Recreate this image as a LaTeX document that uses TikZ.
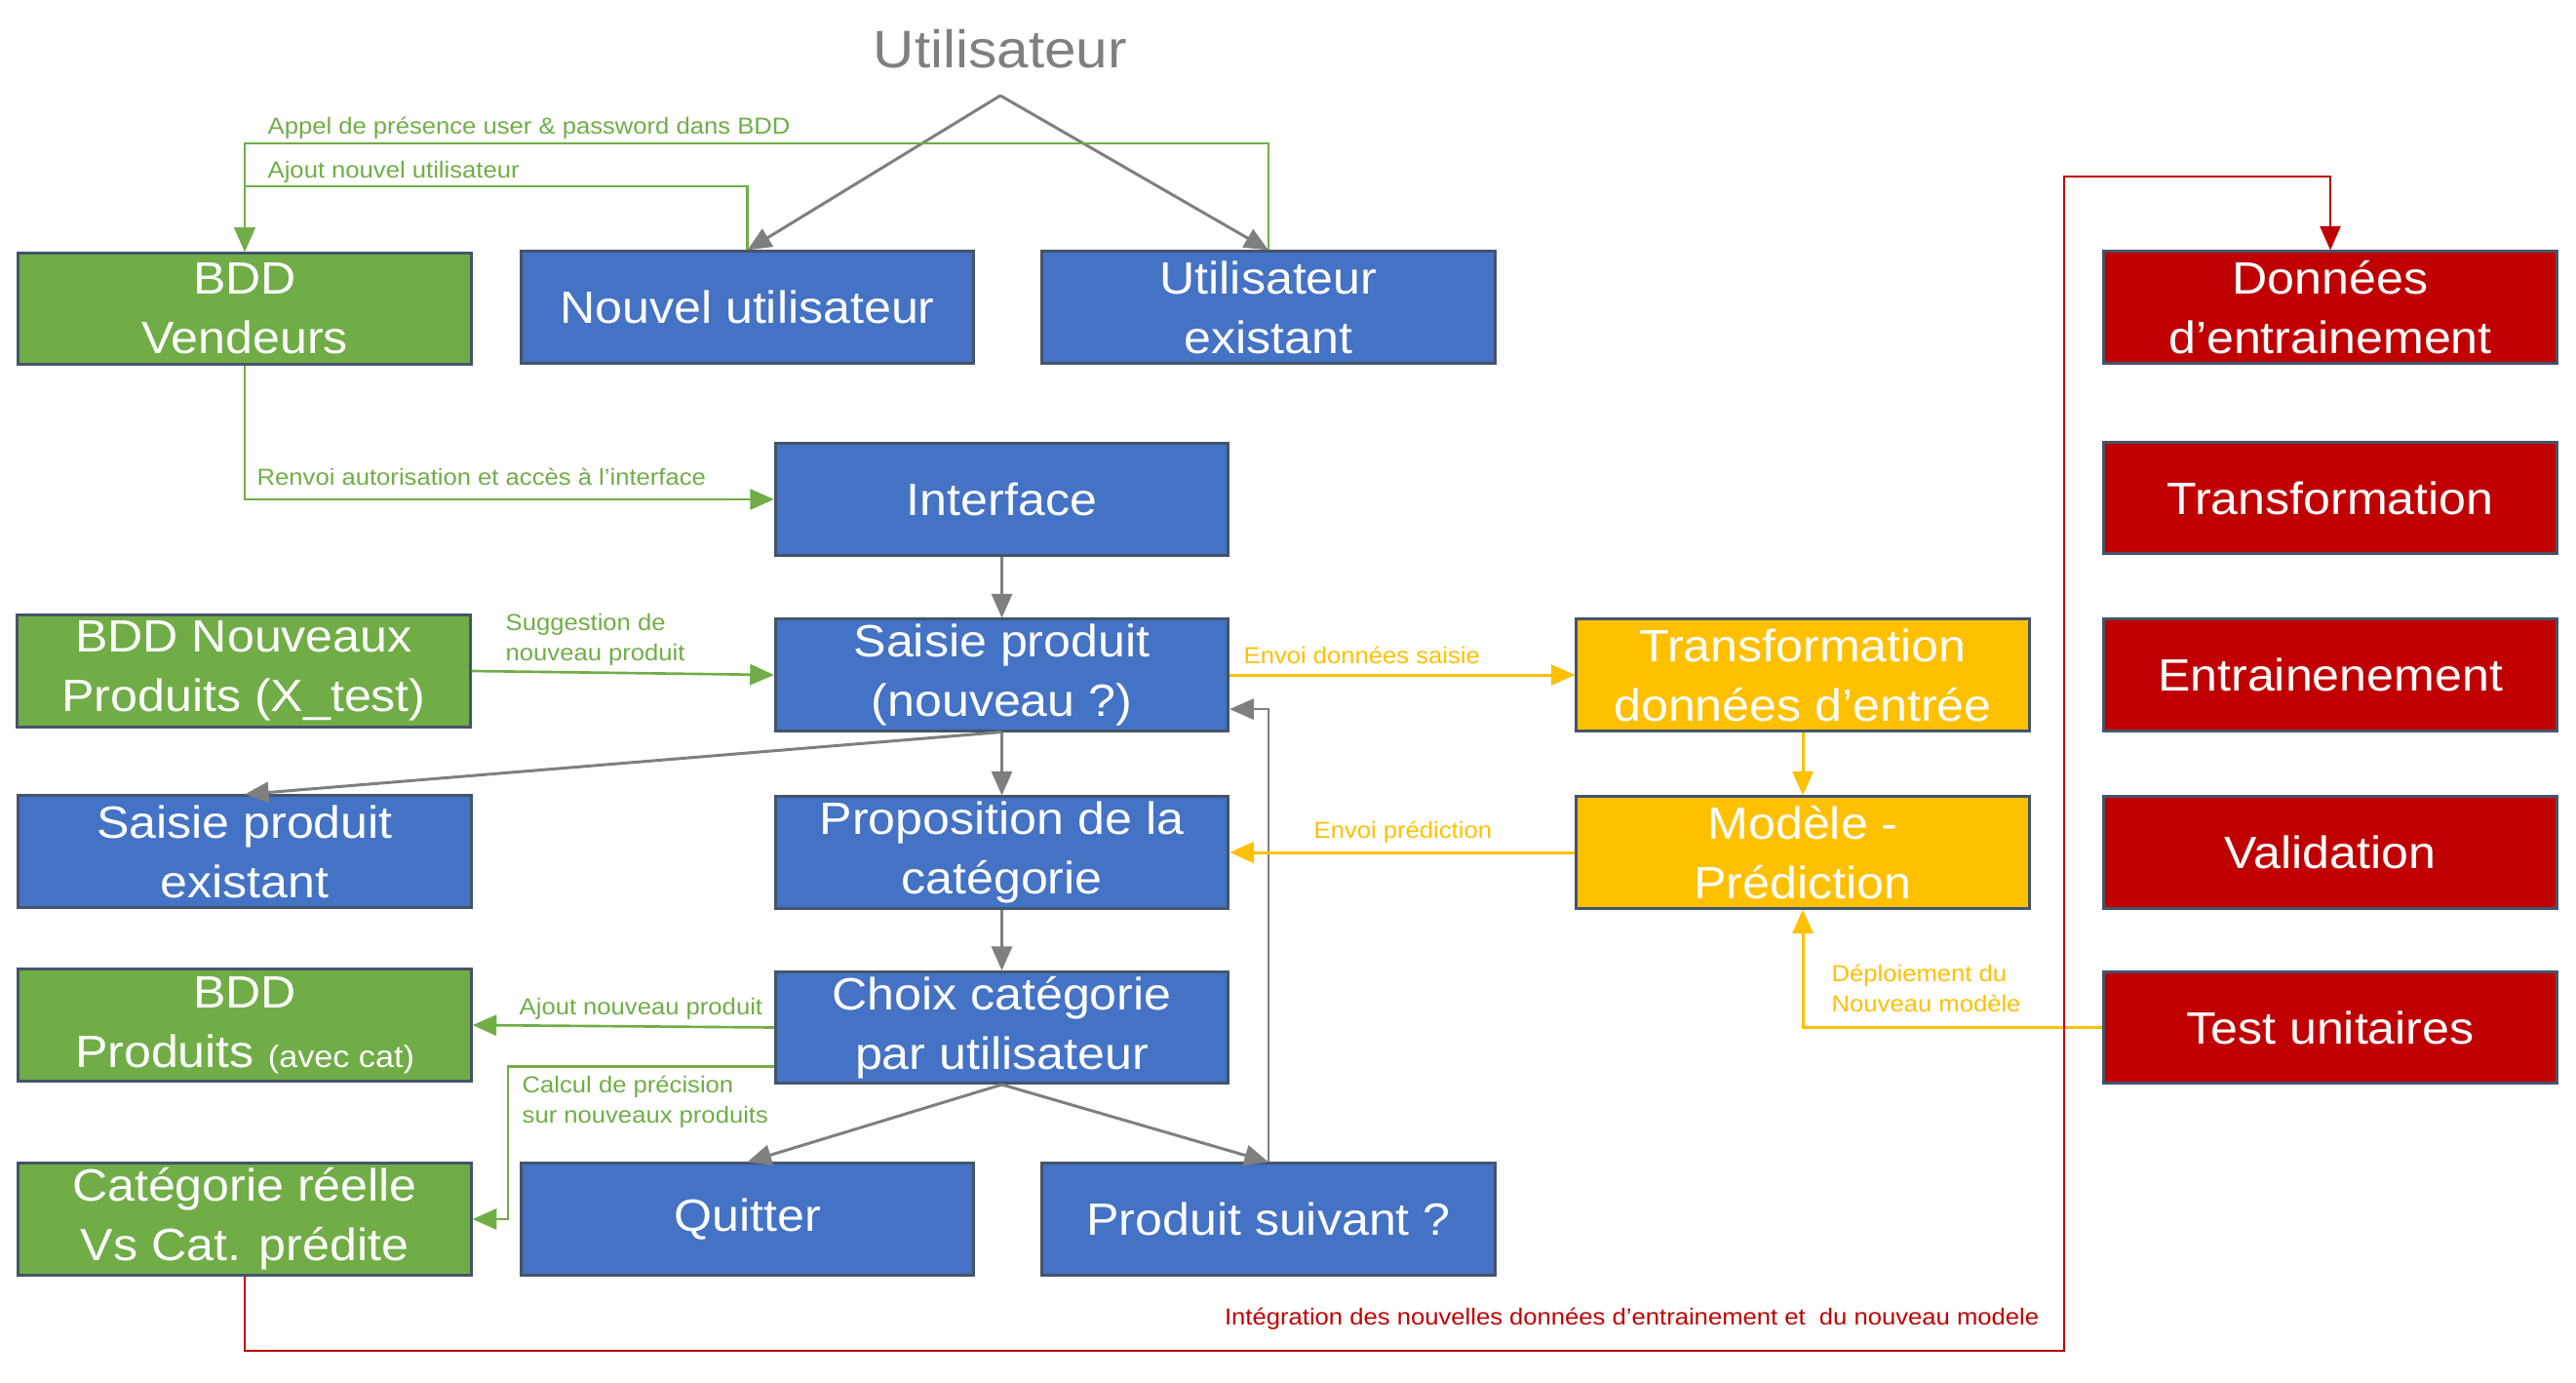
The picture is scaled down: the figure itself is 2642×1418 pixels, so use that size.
\documentclass[tikz,border=0pt]{standalone}
\usepackage{fontspec}
\setmainfont{Liberation Sans}[FakeStretch=1.08]
\usepackage{tikz}
\usetikzlibrary{arrows.meta,calc}
\definecolor{vert}{HTML}{70AD47}
\definecolor{bleu}{HTML}{4472C4}
\definecolor{jaune}{HTML}{FFC000}
\definecolor{rouge}{HTML}{C00000}
\definecolor{contour}{HTML}{44546A}
\definecolor{gris}{HTML}{7F7F7F}
\tikzset{
	flow chart/.style={x=0.01cm, y=-0.01cm},
	box/.style={draw=contour, line width=0.85pt, text=white,
		minimum width=4.64cm, minimum height=1.14cm, inner sep=0pt,
		align=center, font=\fontsize{13.2}{17.4}\selectfont},
	gbox/.style={box, fill=vert},
	bbox/.style={box, fill=bleu},
	ybox/.style={box, fill=jaune},
	rbox/.style={box, fill=rouge},
	lbl/.style={inner sep=0pt, align=left, anchor=base west,
		font=\fontsize{6.75}{8.8}\selectfont},
	ar/.style={-{Triangle[length=7pt,width=6pt]}},
	gline/.style={draw=vert, line width=0.75pt, ar},
	yline/.style={draw=jaune, line width=0.85pt, ar},
	rline/.style={draw=rouge, line width=0.7pt, ar},
	gray/.style={draw=gris, line width=0.85pt, ar},
	% gray thin/.style={draw=gris, line width=0.5pt, ar},
}

\begin{document}
\begin{tikzpicture}[flow chart]
	\useasboundingbox (0,0) rectangle (2642,1418);
	% titre
	\node[text=gris, anchor=base, font=\fontsize{15.4}{18}\selectfont] (util) at (1026,70) {Utilisateur};
	\coordinate (apex) at (1026,98);
	% colonne gauche
	\node[gbox] (BV) at (251,316.5) {BDD\\Vendeurs};
	\node[gbox] (BN) at (250,688) {BDD Nouveaux\\Produits (X\_test)};
	\node[bbox] (SE) at (251,873) {Saisie produit\\existant};
	\node[gbox] (BP) at (251,1051) {BDD\\Produits {\fontsize{9}{10}\selectfont(avec cat)}};
	\node[gbox] (CR) at (251,1250) {Catégorie réelle\\Vs Cat. prédite};
	% milieu
	\node[bbox] (NU) at (766.5,315) {Nouvel utilisateur};
	\node[bbox] (UE) at (1301,315) {Utilisateur\\existant};
	\node[bbox] (IF) at (1027.5,512) {Interface};
	\node[bbox] (SP) at (1027.5,692) {Saisie produit\\(nouveau ?)};
	\node[bbox] (PC) at (1027.5,874) {Proposition de la\\catégorie};
	\node[bbox] (CU) at (1027.5,1053.5) {Choix catégorie\\par utilisateur};
	\node[bbox] (QU) at (766.5,1250) {Quitter};
	\node[bbox] (PS) at (1301,1250) {Produit suivant ?};
	% modele
	\node[ybox] (TD) at (1849,692) {Transformation\\données d’entrée};
	\node[ybox] (MP) at (1849,874) {Modèle -\\Prédiction};
	% entrainement
	\node[rbox] (DE) at (2390,315) {Données\\d’entrainement};
	\node[rbox] (TR) at (2390,510.5) {Transformation};
	\node[rbox] (EN) at (2390,692) {Entrainenement};
	\node[rbox] (VA) at (2390,874) {Validation};
	\node[rbox] (TU) at (2390,1053.5) {Test unitaires};

	% points de passage
	\coordinate (appel) at (0,147);
	\coordinate (ajout) at (0,191);
	\coordinate (calc) at (521,0);
	\coordinate (rb) at (2117,1385);
	\coordinate (rt) at (2117,181);

	% fleches grises
	\draw[gray] (apex) -- (NU.north);
	\draw[gray] (apex) -- (UE.north);
	\draw[gray] (IF) -- (SP);
	\draw[gray] (SP.south) -- (SE.north);
	\draw[gray] (SP) -- (PC);
	\draw[gray] (PC) -- (CU);
	\draw[gray] (CU.south) -- (QU.north);
	\draw[gray] (CU.south) -- (PS.north);
	\draw[gray, line width=0.6pt] (PS.north) |- ($(SP.south east)!.2!(SP.north east)$);

	% fleches vertes
	\draw[gline] (UE.north) |- (BV.north |- appel) -- (BV.north);
	\draw[gline] (NU.north) |- (BV.north |- ajout) -- (BV.north);
	\draw[gline] (BV.south) |- (IF.west);
	\draw[gline] (BN.east) -- (SP.west);
	\draw[gline] (CU.west) -- (BP.east);
	\draw[gline] ($(CU.south west)!.16!(CU.north west)$) -| (calc |- CR.east) -- (CR.east);

	% fleches jaunes
	\draw[yline] (SP.east) -- (TD.west);
	\draw[yline] (TD) -- (MP);
	\draw[yline] (MP.west) -- (PC.east);
	\draw[yline] (TU.west) -| (MP.south);

	% fleche rouge
	\draw[rline] (CR.south) |- (rb) -- (rt) -| (DE.north);

	% textes
	\node[lbl, text=vert] (lAppel) at (274,137) {Appel de présence user \& password dans BDD};
	\node[lbl, text=vert] (lAjout) at (274,182) {Ajout nouvel utilisateur};
	\node[lbl, text=vert] (lRenvoi) at (263,497) {Renvoi autorisation et accès à l’interface};
	\node[lbl, text=vert] (lSugg) at (518,677) {Suggestion de\\nouveau produit};
	\node[lbl, text=jaune] (lEnvS) at (1275,680) {Envoi données saisie};
	\node[lbl, text=jaune] (lEnvP) at (1347,859) {Envoi prédiction};
	\node[lbl, text=vert] (lAjoutP) at (532,1040) {Ajout nouveau produit};
	\node[lbl, text=vert] (lCalc) at (535,1151) {Calcul de précision\\sur nouveaux produits};
	\node[lbl, text=jaune] (lDepl) at (1878,1037) {Déploiement du\\Nouveau modèle};
	\node[lbl, text=rouge, anchor=base east] (lInteg) at (2092,1358) {Intégration des nouvelles données d’entrainement et \ du nouveau modele};
\end{tikzpicture}
\end{document}
